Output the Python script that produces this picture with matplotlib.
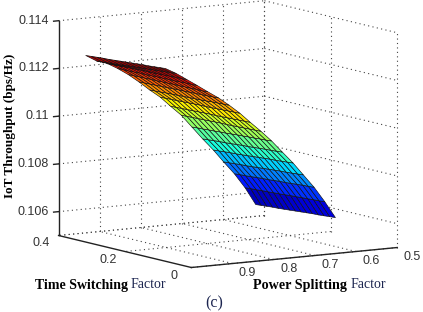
import numpy as np
import matplotlib
matplotlib.use('Agg')
import matplotlib.pyplot as plt
from mpl_toolkits.mplot3d import proj3d

W, H = 423, 312

time_switching = [0.165, 0.182, 0.199, 0.216, 0.234, 0.251, 0.268, 0.285, 0.302, 0.319, 0.336, 0.354, 0.371, 0.388, 0.405]
power_splitting = [0.930, 0.904, 0.878, 0.853, 0.827, 0.801, 0.775, 0.749, 0.724, 0.698, 0.672, 0.646, 0.620, 0.595, 0.569, 0.543, 0.517]

# throughput in units of 1e-5 bps/Hz, one row per power splitting value
throughput = [
    [11267, 11265, 11263, 11261, 11260, 11258, 11256, 11254, 11252, 11250, 11248, 11247, 11245, 11243, 11241],
    [11242, 11240, 11238, 11236, 11234, 11232, 11230, 11228, 11226, 11224, 11222, 11220, 11218, 11216, 11214],
    [11212, 11211, 11210, 11209, 11208, 11207, 11206, 11206, 11205, 11204, 11203, 11202, 11201, 11200, 11199],
    [11183, 11182, 11182, 11181, 11180, 11180, 11179, 11179, 11178, 11177, 11177, 11176, 11175, 11175, 11174],
    [11152, 11151, 11151, 11150, 11150, 11149, 11149, 11148, 11148, 11147, 11147, 11146, 11146, 11145, 11144],
    [11122, 11121, 11120, 11119, 11118, 11117, 11116, 11116, 11115, 11114, 11113, 11112, 11111, 11110, 11109],
    [11087, 11086, 11085, 11084, 11082, 11081, 11080, 11079, 11078, 11077, 11076, 11075, 11073, 11072, 11071],
    [11049, 11048, 11047, 11046, 11045, 11044, 11043, 11043, 11042, 11041, 11040, 11039, 11038, 11037, 11036],
    [11007, 11006, 11005, 11004, 11003, 11002, 11001, 11001, 11000, 10999, 10998, 10997, 10996, 10995, 10994],
    [10965, 10964, 10963, 10962, 10961, 10960, 10959, 10959, 10958, 10957, 10956, 10955, 10954, 10953, 10952],
    [10920, 10918, 10917, 10915, 10914, 10912, 10911, 10909, 10907, 10906, 10904, 10903, 10901, 10900, 10898],
    [10869, 10867, 10865, 10864, 10862, 10860, 10858, 10857, 10855, 10853, 10851, 10850, 10848, 10846, 10844],
    [10819, 10817, 10815, 10813, 10812, 10810, 10808, 10806, 10804, 10802, 10800, 10799, 10797, 10795, 10793],
    [10765, 10763, 10761, 10759, 10758, 10756, 10754, 10752, 10750, 10748, 10746, 10745, 10743, 10741, 10739],
    [10709, 10707, 10706, 10704, 10702, 10700, 10699, 10697, 10695, 10694, 10692, 10690, 10688, 10687, 10685],
    [10644, 10642, 10641, 10639, 10638, 10636, 10635, 10633, 10631, 10630, 10628, 10627, 10625, 10624, 10622],
    [10573, 10571, 10569, 10567, 10566, 10564, 10562, 10560, 10558, 10556, 10554, 10553, 10551, 10549, 10547],
]

t_ticks = [0, 0.2, 0.4]
t_labels = ['0', '0.2', '0.4']
p_ticks = [0.5, 0.6, 0.7, 0.8, 0.9]
p_labels = ['0.5', '0.6', '0.7', '0.8', '0.9']
z_ticks = [0.106, 0.108, 0.11, 0.112, 0.114]
z_labels = ['0.106', '0.108', '0.11', '0.112', '0.114']

T_MIN, T_MAX = 0, 0.4
P_MIN, P_MAX = 0.5, 1.0
Z_MIN, Z_MAX = 0.105, 0.114

GRID = dict(color='#444444', lw=0.8, ls=(0, (1, 3)), zorder=1)
AXIS = dict(color='#222222', lw=1.0, zorder=5)
TICK_FONT = dict(family='Liberation Sans', fontsize=9, color='#333333')


def px_text(x, y, s, **kw):
    # place text by pixel position of the reference
    return fig.text(x / W, 1 - y / H, s, **kw)


def tick_text(x, y, z, dx, dy, s, **kw):
    # label next to a 3d point, offset in pixels
    x2, y2, _ = proj3d.proj_transform(x, y, z, ax.get_proj())
    dsp = ax.transData.transform((x2, y2))
    return fig.text((dsp[0] + dx) / W, (dsp[1] - dy) / H, s, **kw)


fig = plt.figure(figsize=(W / 100, H / 100), dpi=100)
side = 398
cx, cy = 222.5, 139.5
ax = fig.add_axes([(cx - side / 2) / W, 1 - (cy + side / 2) / H, side / W, side / H],
                  projection='3d', proj_type='ortho')
ax.set_box_aspect((248, 244, 217.5))
ax.view_init(elev=8.8, azim=147.6)
ax.set_xlim(T_MIN, T_MAX, view_margin=0)
ax.set_ylim(P_MIN, P_MAX, view_margin=0)
ax.set_zlim(Z_MIN, Z_MAX, view_margin=0)
ax.set_axis_off()
ax.patch.set_alpha(0)
ax.computed_zorder = False
ax.apply_aspect()

# back walls
for z in z_ticks:
    ax.plot([T_MAX, T_MAX], [P_MAX, P_MIN], [z, z], **GRID)
    ax.plot([T_MAX, T_MIN], [P_MIN, P_MIN], [z, z], **GRID)
for p in p_ticks:
    ax.plot([T_MAX, T_MAX], [p, p], [Z_MIN, Z_MAX], **GRID)
for t in t_ticks:
    ax.plot([t, t], [P_MIN, P_MIN], [Z_MIN, Z_MAX], **GRID)

# floor
for p in p_ticks[1:]:
    ax.plot([T_MIN, T_MAX], [p, p], [Z_MIN, Z_MIN], **GRID)
for t in t_ticks:
    ax.plot([t, t], [P_MIN, P_MAX], [Z_MIN, Z_MIN], **GRID)
ax.plot([T_MAX, T_MAX], [P_MIN, P_MAX], [Z_MIN, Z_MIN], **GRID)

# surface
T, P = np.meshgrid(time_switching, power_splitting)
Z = np.array(throughput) / 1e5
ax.plot_surface(T, P, Z, rstride=1, cstride=1, cmap='jet', vmin=Z.min(), vmax=Z.max(),
                edgecolor='#111111', linewidth=0.45, shade=False, antialiased=True, zorder=3)

# solid axes
ax.plot([T_MAX, T_MAX], [P_MAX, P_MAX], [Z_MIN, Z_MAX], **AXIS)
ax.plot([T_MIN, T_MAX], [P_MAX, P_MAX], [Z_MIN, Z_MIN], **AXIS)
ax.plot([T_MIN, T_MIN], [P_MIN, P_MAX], [Z_MIN, Z_MIN], **AXIS)
for z in z_ticks:
    ax.plot([T_MAX, T_MAX], [P_MAX, P_MAX + 0.012], [z, z], **AXIS)

# tick labels
for z, lab in zip(z_ticks, z_labels):
    tick_text(T_MAX, P_MAX, z, -10, 0, lab, ha='right', va='center', **TICK_FONT)
for t, lab in zip(t_ticks, t_labels):
    tick_text(t, P_MAX, Z_MIN, -17, 8, lab, ha='center', va='center', **TICK_FONT)
for p, lab in zip(p_ticks, p_labels):
    tick_text(T_MIN, p, Z_MIN, 15, 9, lab, ha='center', va='center', **TICK_FONT)

# labels, bold part then plain part
SERIF = 'Liberation Serif'
px_text(10, 126, 'IoT Throughput (bps/Hz)', rotation=90, ha='center', va='center',
        family=SERIF, fontweight='bold', fontsize=9.5, color='black')
px_text(35, 285, 'Time Switching', ha='left', va='center', family=SERIF,
        fontweight='bold', fontsize=10, color='black')
px_text(131, 285, 'Factor', ha='left', va='center', family=SERIF, fontsize=10, color='#1c2550')
px_text(253, 285, 'Power Splitting', ha='left', va='center', family=SERIF,
        fontweight='bold', fontsize=10.2, color='black')
px_text(351, 285, 'Factor', ha='left', va='center', family=SERIF, fontsize=10, color='#1c2550')
px_text(214, 303, '(c)', ha='center', va='center', family=SERIF, fontsize=11.5, color='#1c2550')

fig.savefig('out.png', dpi=100)
